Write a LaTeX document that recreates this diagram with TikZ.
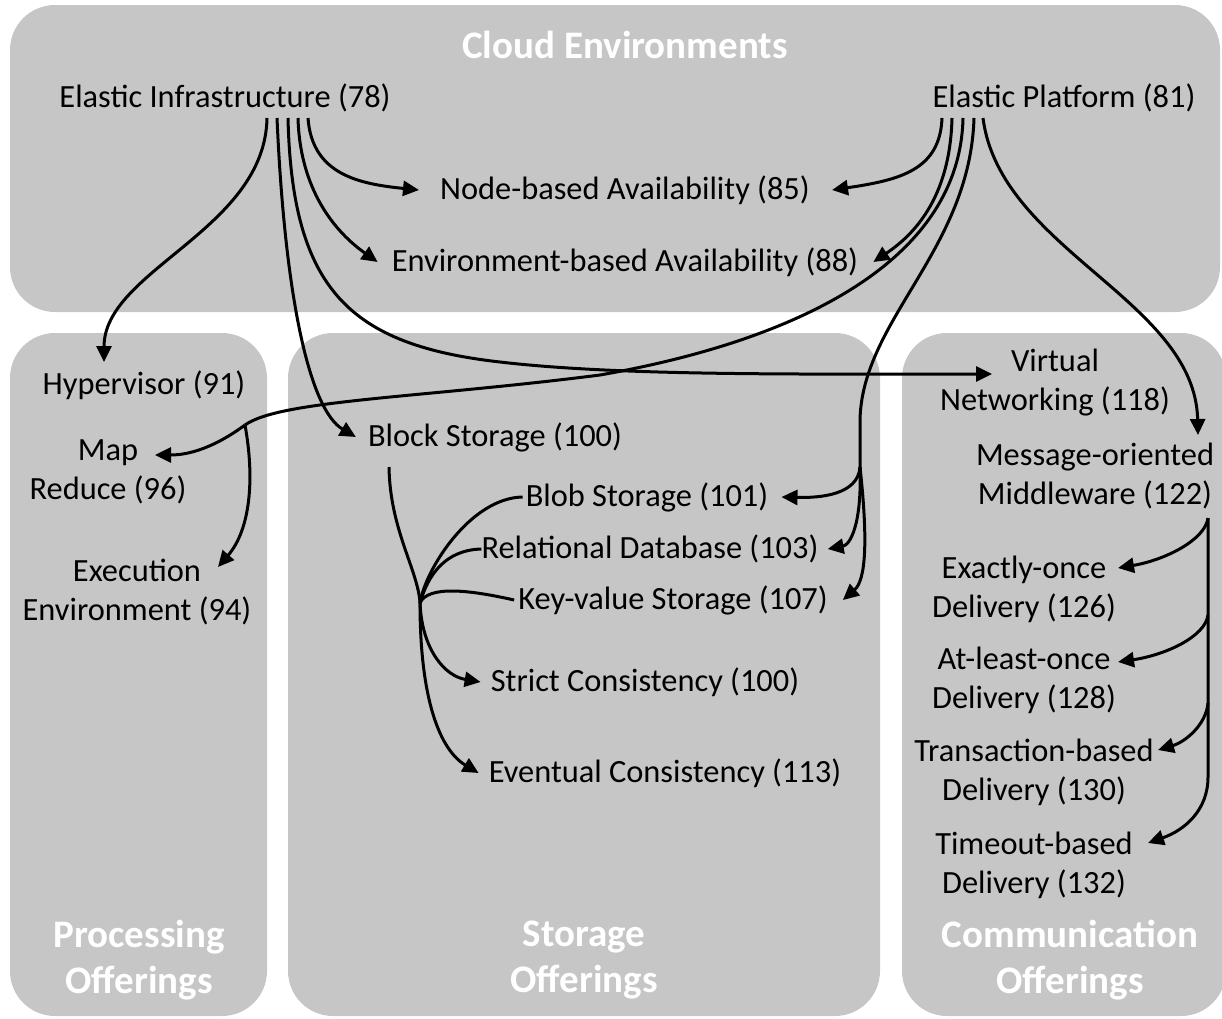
\documentclass[tikz,border=0pt]{standalone}
\usepackage{fontspec}
\setmainfont{Carlito}
\usetikzlibrary{arrows.meta,calc}
\definecolor{boxgray}{HTML}{C6C6C6}
\tikzset{
  panel/.style={fill=boxgray,rounded corners=45pt},
  item/.style={font=\fontsize{32.4}{39}\selectfont,align=center,inner sep=0pt},
  title/.style={font=\fontsize{39}{46}\selectfont\bfseries,text=white,align=center,inner sep=0pt},
  link/.style={line width=3pt},
  arr/.style={link,-{Triangle[length=16pt,width=15pt]}},
}
\begin{document}
\begin{tikzpicture}[x=1pt,y=-1pt]
		\useasboundingbox (0,0) rectangle (1222,1018);
		
		% panels
		\fill[panel] (10,5) rectangle (1220,312);
		\fill[panel] (10,333) rectangle (267,1016);
		\fill[panel] (288,333) rectangle (880,1016);
		\fill[panel] (902,333) rectangle (1226,1016);
		
		% panel titles
		\node[title] (cloud) at (625,45) {Cloud Environments};
		\node[title] (proc) at (139,960) {Processing\\Offerings};
		\node[title] (stor) at (584,960) {Storage\\Offerings};
		\node[title] (comm) at (1070,960) {Communication\\Offerings};
		
		% patterns
		\node[item] (infra) at (225,98) {Elastic Infrastructure (78)};
		\node[item] (platform) at (1064,98) {Elastic Platform (81)};
		\node[item] (nodeav) at (625,190) {Node-based Availability (85)};
		\node[item] (envav) at (625,262) {Environment-based Availability (88)};
		\node[item] (hyper) at (144,385) {Hypervisor (91)};
		\node[item] (mapred) at (108,472) {Map\\Reduce (96)};
		\node[item] (exec) at (137,592) {Execution\\Environment (94)};
		\node[item] (block) at (495,437) {Block Storage (100)};
		\node[item] (blob) at (647,497) {Blob Storage (101)};
		\node[item] (reldb) at (650,549) {Relational Database (103)};
		\node[item] (kvs) at (673,600) {Key-value Storage (107)};
		\node[item] (strict) at (645,682) {Strict Consistency (100)};
		\node[item] (eventual) at (665,773) {Eventual Consistency (113)};
		\node[item] (vnet) at (1055,383) {Virtual\\Networking (118)};
		\node[item] (mom) at (1095,476) {Message-oriented\\Middleware (122)};
		\node[item] (exactly) at (1024,589) {Exactly-once\\Delivery (126)};
		\node[item] (atleast) at (1024,680) {At-least-once\\Delivery (128)};
		\node[item] (trans) at (1034,772) {Transaction-based\\Delivery (130)};
		\node[item] (timeout) at (1034,865) {Timeout-based\\Delivery (132)};
		
		% split points
		\coordinate (mrsplit) at (245,425);
		\coordinate (stsplit) at (860,467);
		\coordinate (bsplit) at (420,603);
		\coordinate (m1) at ($(mom)+(113,42)$);
		\coordinate (m2) at (1208,615);
		\coordinate (m3) at (1208,703);
		\coordinate (m4) at (1208,777);
		
		% elastic infrastructure
		\draw[arr] ($(infra)+(42,20)$) .. controls (265,230) and (104,270) .. ($(hyper)+(-40,-23)$);
		\draw[arr] ($(infra)+(52,20)$) .. controls (285,300) and (310,410) .. ([xshift=-12pt]block.west);
		\draw[arr] ($(infra)+(63,20)$) .. controls (292,290) and (350,345) .. (500,362)
		.. controls (620,376) and (800,374) .. ($(vnet)+(-63,-9)$);
		\draw[arr] ($(infra)+(73,20)$) .. controls (300,190) and (335,232) .. ([xshift=-14pt]envav.west);
		\draw[arr] ($(infra)+(83,20)$) .. controls (312,175) and (360,184) .. ([xshift=-21pt]nodeav.west);
		
		% elastic platform
		\draw[arr] ($(platform)+(-122,20)$) .. controls (940,170) and (900,180) .. ([xshift=22pt]nodeav.east);
		\draw[arr] ($(platform)+(-112,20)$) .. controls (950,200) and (912,236) .. ([xshift=15pt]envav.east);
		\draw[link] ($(platform)+(-101,20)$) .. controls (960,260) and (800,340) .. (600,375)
		.. controls (420,398) and (280,400) .. (mrsplit);
		\draw[arr] (mrsplit) .. controls (215,447) and (190,455) .. ($(mapred)+(47,-17)$);
		\draw[arr] (mrsplit) .. controls (255,480) and (250,530) .. ($(exec)+(81,-25)$);
		\draw[link] ($(platform)+(-90,20)$) .. controls (970,250) and (862,320) .. (860,420) -- (stsplit);
		\draw[arr] (stsplit) .. controls (858,495) and (820,498) .. ([xshift=13pt]blob.east);
		\draw[arr] (stsplit) .. controls (862,525) and (850,545) .. ([xshift=9pt]reldb.east);
		\draw[arr] (stsplit) .. controls (868,540) and (866,580) .. ([xshift=15pt]kvs.east);
		\draw[arr] ($(platform)+(-81,20)$) .. controls (1000,250) and (1195,300) .. ($(mom)+(103,-41)$);
		
		% block storage
		\draw[link] ($(block)+(-106,30)$) .. controls (390,530) and (418,570) .. (bsplit);
		\draw[link] ([xshift=-3pt]blob.west) .. controls (470,498) and (425,570) .. (bsplit);
		\draw[link] (reldb.west) .. controls (445,550) and (428,575) .. (bsplit);
		\draw[link] ([xshift=-4pt]kvs.west) .. controls (470,590) and (428,585) .. (bsplit);
		\draw[arr] (bsplit) .. controls (422,650) and (445,676) .. ([xshift=-10pt]strict.west);
		\draw[arr] (bsplit) .. controls (420,700) and (440,750) .. ([xshift=-10pt]eventual.west);
		
		% message-oriented middleware
		\draw[arr] (m1) -- (m4) .. controls (1208,810) and (1185,830) .. ($(timeout)+(114,-22)$);
		\draw[arr] (m1) .. controls (1205,540) and (1165,560) .. ($(exactly)+(94,-21)$);
		\draw[arr] (m2) .. controls (1205,637) and (1165,655) .. ($(atleast)+(94,-18)$);
		\draw[arr] (m3) .. controls (1206,725) and (1185,742) .. ($(trans)+(124,-22)$);
		
	\end{tikzpicture}
\end{document}
